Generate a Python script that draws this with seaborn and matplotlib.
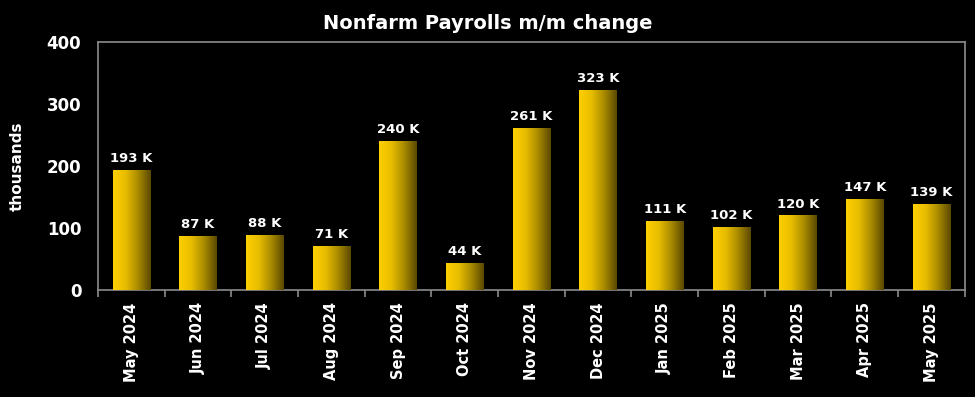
import numpy as np
import pandas as pd
import matplotlib
matplotlib.use('Agg')
import matplotlib.pyplot as plt
import seaborn as sns
from matplotlib.colors import LinearSegmentedColormap

# data
months = ['May 2024', 'Jun 2024', 'Jul 2024', 'Aug 2024', 'Sep 2024', 'Oct 2024', 'Nov 2024',
          'Dec 2024', 'Jan 2025', 'Feb 2025', 'Mar 2025', 'Apr 2025', 'May 2025']
payrolls = [193, 87, 88, 71, 240, 44, 261, 323, 111, 102, 120, 147, 139]

df = pd.DataFrame({'month': months, 'payrolls': payrolls})

sns.set_theme(style='dark')
plt.rcParams['font.family'] = ['DejaVu Sans']

fig = plt.figure(figsize=(9.75, 3.97), dpi=100, facecolor='black')
ax = fig.add_axes([0.1005, 0.27, 0.889, 0.624])
ax.set_facecolor('black')

sns.barplot(data=df, x='month', y='payrolls', ax=ax, color='#f5c800', width=0.56,
            saturation=1, edgecolor='none')

# horizontal gold -> dark brown gradient on each bar
grad_cmap = LinearSegmentedColormap.from_list('gold', ['#ffd000', '#e8bd00', '#a88a00', '#5a4800'])
grad = np.linspace(0, 1, 256).reshape(1, -1)
for bar in ax.patches:
    x0, w, h = bar.get_x(), bar.get_width(), bar.get_height()
    im = ax.imshow(grad, cmap=grad_cmap, aspect='auto', extent=[x0, x0 + w, 0, h], zorder=3)
    im.set_clip_path(bar)
    bar.set_facecolor('none')

for i, v in enumerate(payrolls):
    ax.text(i, v + 8, f'{v} K', ha='center', va='bottom', color='white',
            fontsize=9.5, fontweight='bold', zorder=4)

ax.set_xlim(-0.5, len(months) - 0.5)
ax.set_ylim(0, 400)
ax.set_yticks([0, 100, 200, 300, 400])
ax.set_yticklabels(['0', '100', '200', '300', '400'], color='white', fontsize=12, fontweight='bold')
ax.set_xticks(range(len(months)))
ax.set_xticklabels(months, rotation=90, color='white', fontsize=10.5, fontweight='bold')
ax.set_xticks(np.arange(-0.5, len(months), 1), minor=True)
ax.tick_params(axis='x', which='major', length=0, pad=9)
ax.tick_params(axis='x', which='minor', length=5, color='#8c8c8c', width=1.2, bottom=True)
ax.tick_params(axis='y', length=0, pad=12)

ax.set_xlabel('')
ax.set_ylabel('thousands', color='white', fontsize=11, fontweight='bold', labelpad=16)
ax.grid(False)
for side in ['left', 'right', 'top', 'bottom']:
    ax.spines[side].set_visible(True)
    ax.spines[side].set_color('#8c8c8c')
    ax.spines[side].set_linewidth(1.2)

fig.suptitle('Nonfarm Payrolls m/m change', color='white', fontsize=14, fontweight='bold', y=0.965)

fig.savefig('out.png', dpi=100, facecolor='black')
